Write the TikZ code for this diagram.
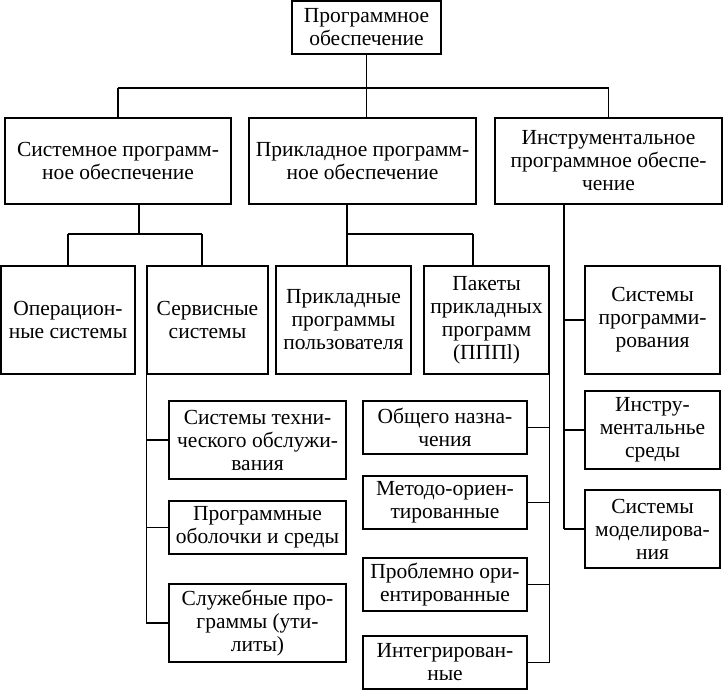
\documentclass[tikz,border=0pt]{standalone}
\usepackage{fontspec}
\setmainfont{Liberation Serif}
\begin{document}
\begin{tikzpicture}[x=1pt,y=-1pt,
  box/.style={draw, line width=1.2pt, inner sep=0pt, align=center,
    font=\fontsize{21.5}{23}\selectfont},
  conn/.style={line width=1.2pt}]
\useasboundingbox (0,0) rectangle (724,690);
% level 1
\node[box, minimum width=149, minimum height=53] (top) at (366.5,27.5) {Программное\\обеспечение};
% level 2
\node[box, minimum width=226, minimum height=86] (A) at (118,161) {Системное программ-\\ное обеспечение};
\node[box, minimum width=227, minimum height=86] (B) at (362.5,161) {Прикладное программ-\\ное обеспечение};
\node[box, minimum width=227, minimum height=86] (C) at (608.5,161) {Инструментальное\\программное обеспе-\\чение};
% level 3
\node[box, minimum width=134, minimum height=108] (op) at (68,320) {Операцион-\\ные системы};
\node[box, minimum width=121, minimum height=108] (serv) at (207.5,320) {Сервисные\\системы};
\node[box, minimum width=135, minimum height=108] (pp) at (343.5,320) {Прикладные\\программы\\пользователя};
\node[box, minimum width=125, minimum height=108] (pak) at (486.5,320) {Пакеты\\прикладных\\программ\\(ПППl)};
\node[box, minimum width=135, minimum height=108] (sp) at (652.5,320) {Системы\\программи-\\рования};
% service children
\node[box, minimum width=177, minimum height=78] (tech) at (257.5,440) {Системы техни-\\ческого обслужи-\\вания};
\node[box, minimum width=177, minimum height=53] (shell) at (257.5,527.5) {Программные\\оболочки и среды};
\node[box, minimum width=177, minimum height=78] (util) at (257.5,623) {Служебные про-\\граммы (ути-\\литы)};
% package children
\node[box, minimum width=164, minimum height=53] (gen) at (445,427.5) {Общего назна-\\чения};
\node[box, minimum width=164, minimum height=53] (meth) at (445,502.5) {Методо-ориен-\\тированные};
\node[box, minimum width=164, minimum height=53] (prob) at (445,584.5) {Проблемно ори-\\ентированные};
\node[box, minimum width=164, minimum height=53] (integ) at (445,662.5) {Интегрирован-\\ные};
% instrumental children
\node[box, minimum width=135, minimum height=78] (env) at (652.5,430) {Инстру-\\ментальнье\\среды};
\node[box, minimum width=135, minimum height=78] (model) at (652.5,529) {Системы\\моделирова-\\ния};
% bus coordinates
\coordinate (h1) at (0,88);
\coordinate (h2) at (0,234);
% top connectors
\draw[conn] (top.south) -- (top.south |- h1);
\draw[conn] (A.north |- h1) -- (C.north |- h1);
\draw[conn] (A.north |- h1) -- (A.north);
\draw[conn] (top.south |- h1) -- (top.south |- B.north);
\draw[conn] (C.north |- h1) -- (C.north);
% A children
\draw[conn] ([xshift=21pt]A.south) -- ([xshift=21pt]A.south |- h2);
\draw[conn] (op.north |- h2) -- ([xshift=-5.5pt]serv.north |- h2);
\draw[conn] (op.north |- h2) -- (op.north);
\draw[conn] ([xshift=-5.5pt]serv.north |- h2) -- ([xshift=-5.5pt]serv.north);
% B children
\draw[conn] ([xshift=-15.5pt]B.south) -- ([xshift=-15.5pt]B.south |- h2);
\draw[conn] ([xshift=-15.5pt]B.south |- h2) -- ([xshift=-13.5pt]pak.north |- h2);
\draw[conn] ([xshift=-15.5pt]B.south |- h2) -- ([xshift=-15.5pt]B.south |- pp.north);
\draw[conn] ([xshift=-13.5pt]pak.north |- h2) -- ([xshift=-13.5pt]pak.north);
% C children
\draw[conn] ([xshift=-44.5pt]C.south) -- ([xshift=-44.5pt]C.south |- model.west);
\draw[conn] ([xshift=-44.5pt]C.south |- sp.west) -- (sp.west);
\draw[conn] ([xshift=-44.5pt]C.south |- env.west) -- (env.west);
\draw[conn] ([xshift=-44.5pt]C.south |- model.west) -- (model.west);
% service children
\draw[conn] (serv.south west) -- (serv.south west |- util.west);
\draw[conn] (serv.south west |- tech.west) -- (tech.west);
\draw[conn] (serv.south west |- shell.west) -- (shell.west);
\draw[conn] (serv.south west |- util.west) -- (util.west);
% package children
\draw[conn] (pak.south east) -- (pak.south east |- integ.east);
\draw[conn] (pak.south east |- gen.east) -- (gen.east);
\draw[conn] (pak.south east |- meth.east) -- (meth.east);
\draw[conn] (pak.south east |- prob.east) -- (prob.east);
\draw[conn] (pak.south east |- integ.east) -- (integ.east);
\end{tikzpicture}
\end{document}
